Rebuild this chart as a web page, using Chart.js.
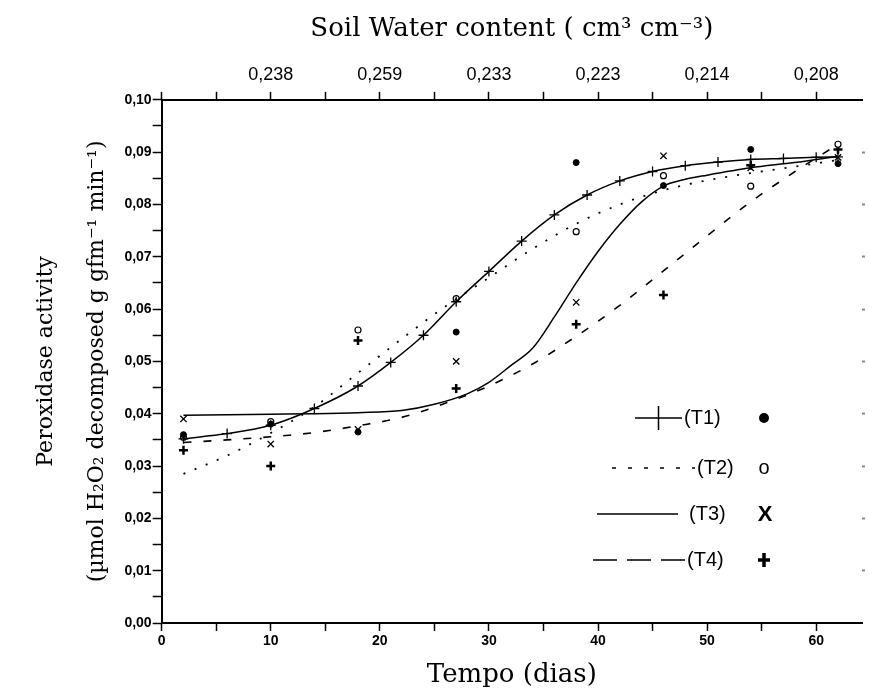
<!DOCTYPE html>
<html>
<head>
<meta charset="utf-8">
<script src="https://cdn.jsdelivr.net/npm/chart.js@4.4.0/dist/chart.umd.min.js"></script>
<style>
  html, body { margin: 0; padding: 0; background: #fff; }
  #wrap { width: 869px; height: 691px; }
</style>
</head>
<body>
<div id="wrap"><canvas id="chart"></canvas></div>
<script>
// measured points (days after start)
const sampleDays = [2, 10, 18, 27, 38, 46, 54, 62];
const t1Points = [0.036, 0.038, 0.0365, 0.0556, 0.088, 0.0836, 0.0905, 0.0878];
const t2Points = [0.0355, 0.0385, 0.056, 0.062, 0.0748, 0.0855, 0.0835, 0.0915];
const t3Points = [0.039, 0.0342, 0.037, 0.050, 0.0613, 0.0893, 0.087, 0.089];
const t4Points = [0.033, 0.030, 0.054, 0.0448, 0.0571, 0.0627, 0.0875, 0.0905];

// fitted curves
const t1CurveDays = [2, 6, 10, 14, 18, 21, 24, 27, 30, 33, 36, 39, 42, 45, 48, 51, 54, 57, 60, 62];
const t1Curve = [0.0352, 0.0362, 0.0378, 0.041, 0.0453, 0.0498, 0.055, 0.0614, 0.0672, 0.073,
                 0.078, 0.0818, 0.0845, 0.0863, 0.0874, 0.0881, 0.0886, 0.0888, 0.089, 0.0891];
const t2CurveDays = [2, 6, 10, 14, 18, 22, 26, 30, 34, 38, 42, 46, 50, 54, 58, 62];
const t2Curve = [0.0285, 0.032, 0.0363, 0.0413, 0.0478, 0.0543, 0.0605, 0.066, 0.0715, 0.0763,
                 0.080, 0.0827, 0.0846, 0.086, 0.0872, 0.0885];
const t3CurveDays = [2, 6, 10, 14, 18, 22, 25, 28, 30, 32, 34, 36, 38, 40, 42, 44, 46, 48, 50, 54, 58, 62];
const t3Curve = [0.0397, 0.0398, 0.0399, 0.040, 0.0402, 0.0406, 0.0418, 0.0438, 0.046, 0.0492,
                 0.0525, 0.0585, 0.065, 0.071, 0.0762, 0.0805, 0.0835, 0.0848, 0.0856, 0.087, 0.088, 0.0892];
const t4CurveDays = [2, 6, 10, 14, 18, 22, 26, 30, 34, 38, 42, 46, 50, 54, 58, 62];
const t4Curve = [0.0345, 0.035, 0.0356, 0.0364, 0.0377, 0.0393, 0.042, 0.0453, 0.0495, 0.0548,
                 0.0607, 0.0673, 0.074, 0.0805, 0.0862, 0.0915];

// top axis: soil water content at given days
const soilTickDays = [10, 20, 30, 40, 50, 60];
const soilTickLabels = ['0,238', '0,259', '0,233', '0,223', '0,214', '0,208'];

const toXY = (xs, ys) => xs.map((x, i) => ({ x: x, y: ys[i] }));

const legendPlugin = {
  id: 'seriesLegend',
  afterDatasetsDraw(chart) {
    const ctx = chart.ctx;
    const rows = [
      { y: 418, x1: 635, x2: 682, dash: [], cross: true, label: '(T1)', tx: 684, sym: 'dot' },
      { y: 468, x1: 612, x2: 695, dash: [4, 12], label: '(T2)', tx: 697, sym: 'o' },
      { y: 514, x1: 597, x2: 678, dash: [], label: '(T3)', tx: 689, sym: 'X' },
      { y: 560, x1: 593, x2: 685, dash: [24, 10], label: '(T4)', tx: 687, sym: 'plus' }
    ];
    ctx.save();
    rows.forEach(r => {
      ctx.strokeStyle = '#000';
      ctx.lineWidth = 1.5;
      ctx.setLineDash(r.dash);
      ctx.beginPath();
      ctx.moveTo(r.x1, r.y);
      ctx.lineTo(r.x2, r.y);
      ctx.stroke();
      ctx.setLineDash([]);
      if (r.cross) {
        ctx.beginPath();
        ctx.moveTo((r.x1 + r.x2) / 2, r.y - 12);
        ctx.lineTo((r.x1 + r.x2) / 2, r.y + 12);
        ctx.stroke();
      }
      ctx.fillStyle = '#000';
      ctx.font = '20px "Liberation Sans", Arial, sans-serif';
      ctx.textBaseline = 'middle';
      ctx.textAlign = 'left';
      ctx.fillText(r.label, r.tx, r.y);
      const sx = 764;
      if (r.sym === 'dot') {
        ctx.beginPath();
        ctx.arc(sx, r.y, 5, 0, Math.PI * 2);
        ctx.fill();
      } else if (r.sym === 'o') {
        ctx.font = '20px "Liberation Sans", Arial, sans-serif';
        ctx.textAlign = 'center';
        ctx.fillText('o', sx, r.y);
      } else if (r.sym === 'X') {
        ctx.font = 'bold 22px "Liberation Sans", Arial, sans-serif';
        ctx.textAlign = 'center';
        ctx.fillText('X', sx + 1, r.y + 1);
      } else {
        ctx.lineWidth = 3.5;
        ctx.beginPath();
        ctx.moveTo(sx - 6, r.y); ctx.lineTo(sx + 6, r.y);
        ctx.moveTo(sx, r.y - 7); ctx.lineTo(sx, r.y + 7);
        ctx.stroke();
      }
    });
    ctx.restore();
  }
};

const keepFives = scale => {
  scale.ticks = scale.ticks.filter(t => Math.abs(t.value / 5 - Math.round(t.value / 5)) < 1e-6);
};

const serif = '"DejaVu Serif", "Liberation Serif", serif';
const sans = '"Liberation Sans", Arial, sans-serif';

let ctx = document.getElementById('chart').getContext('2d');
let chart = new Chart(ctx, {
  type: 'scatter',
  data: {
    datasets: [
      {
        label: 'T1 curve',
        data: toXY(t1CurveDays, t1Curve),
        showLine: true,
        borderColor: '#000',
        borderWidth: 1.5,
        pointStyle: 'cross',
        pointRadius: 5,
        pointBorderWidth: 1.3,
        pointBorderColor: '#000',
        cubicInterpolationMode: 'monotone'
      },
      {
        label: 'T2 curve',
        data: toXY(t2CurveDays, t2Curve),
        showLine: true,
        borderColor: '#000',
        borderWidth: 1.8,
        borderDash: [2, 10],
        pointRadius: 0,
        cubicInterpolationMode: 'monotone'
      },
      {
        label: 'T3 curve',
        data: toXY(t3CurveDays, t3Curve),
        showLine: true,
        borderColor: '#000',
        borderWidth: 1.5,
        pointRadius: 0,
        cubicInterpolationMode: 'monotone'
      },
      {
        label: 'T4 curve',
        data: toXY(t4CurveDays, t4Curve),
        showLine: true,
        borderColor: '#000',
        borderWidth: 1.6,
        borderDash: [8, 12],
        pointRadius: 0,
        cubicInterpolationMode: 'monotone'
      },
      {
        label: 'T1',
        data: toXY(sampleDays, t1Points),
        pointStyle: 'circle',
        pointRadius: 3,
        backgroundColor: '#000',
        borderColor: '#000'
      },
      {
        label: 'T2',
        data: toXY(sampleDays, t2Points),
        pointStyle: 'circle',
        pointRadius: 3,
        borderWidth: 1.2,
        backgroundColor: '#fff',
        borderColor: '#000'
      },
      {
        label: 'T3',
        data: toXY(sampleDays, t3Points),
        pointStyle: 'crossRot',
        pointRadius: 4.5,
        borderWidth: 1.3,
        borderColor: '#000'
      },
      {
        label: 'T4',
        data: toXY(sampleDays, t4Points),
        pointStyle: 'cross',
        pointRadius: 4.5,
        borderWidth: 2.5,
        borderColor: '#000'
      }
    ]
  },
  options: {
    responsive: true,
    maintainAspectRatio: false,
    animation: false,
    layout: { padding: { left: 20, right: 2, top: 10, bottom: 0 } },
    plugins: {
      legend: { display: false },
      tooltip: { enabled: false }
    },
    scales: {
      x: {
        type: 'linear',
        position: 'bottom',
        min: 0,
        max: 64.2,
        afterBuildTicks: keepFives,
        grid: { drawOnChartArea: false, tickLength: 8, tickColor: '#000', tickWidth: 1.5 },
        border: { color: '#000', width: 2 },
        ticks: {
          stepSize: 5,
          includeBounds: false,
          autoSkip: false,
          maxRotation: 0,
          padding: 2,
          color: '#000',
          font: { family: sans, size: 14, weight: 'bold' },
          callback: v => (Math.round(v) % 10 === 0 ? String(Math.round(v)) : '')
        },
        title: {
          display: true,
          text: 'Tempo (dias)',
          color: '#000',
          font: { family: serif, size: 26 },
          padding: { top: 8, bottom: 0 }
        }
      },
      xTop: {
        type: 'linear',
        position: 'top',
        min: 0,
        max: 64.2,
        afterBuildTicks: keepFives,
        grid: { drawOnChartArea: false, tickLength: 8, tickColor: '#000', tickWidth: 1.5 },
        border: { color: '#000', width: 2 },
        ticks: {
          stepSize: 5,
          includeBounds: false,
          autoSkip: false,
          maxRotation: 0,
          padding: 6,
          color: '#000',
          font: { family: sans, size: 18 },
          callback: v => {
            const i = soilTickDays.indexOf(Math.round(v));
            return i >= 0 ? soilTickLabels[i] : '';
          }
        },
        title: {
          display: true,
          text: 'Soil Water content ( cm³ cm⁻³)',
          color: '#000',
          font: { family: serif, size: 26 },
          padding: { top: 4, bottom: 13 }
        }
      },
      y: {
        type: 'linear',
        position: 'left',
        min: 0,
        max: 0.1,
        grid: { drawOnChartArea: false, tickLength: 9, tickColor: '#000', tickWidth: 1.5 },
        border: { color: '#000', width: 2 },
        ticks: {
          stepSize: 0.005,
          autoSkip: false,
          padding: 1,
          color: '#000',
          font: { family: sans, size: 14, weight: 'bold' },
          callback: v => {
            const k = Math.round(v * 1000);
            return k % 10 === 0 ? (k / 1000).toFixed(2).replace('.', ',') : '';
          }
        },
        title: {
          display: true,
          text: ['Peroxidase activity', '(µmol H₂O₂ decomposed g gfm⁻¹ min⁻¹)'],
          color: '#000',
          font: { family: serif, size: 22, lineHeight: 2.35 },
          padding: { top: 0, bottom: 0 }
        }
      },
      yRight: {
        type: 'linear',
        position: 'right',
        min: 0,
        max: 0.1,
        grid: {
          drawOnChartArea: false,
          tickLength: 3,
          tickWidth: 2,
          tickColor: c => (c.tick && c.tick.value > 0.001 && c.tick.value < 0.099 ? '#888' : 'rgba(0,0,0,0)')
        },
        border: { display: false },
        ticks: { stepSize: 0.01, display: false }
      }
    }
  },
  plugins: [legendPlugin]
});
</script>
</body>
</html>
